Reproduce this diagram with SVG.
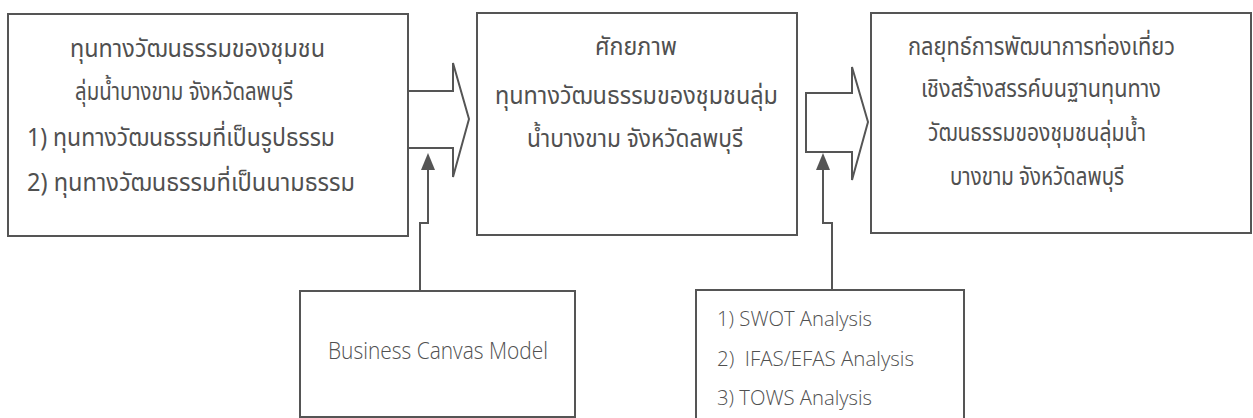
<svg xmlns="http://www.w3.org/2000/svg" width="1253" height="418" viewBox="0 0 1253 418">
<defs>
<style>
.box{fill:#fff;stroke:#555;stroke-width:2}
.ln{fill:none;stroke:#555;stroke-width:2}
.ah{fill:#555}
.th{font-family:"Noto Sans Thai","Noto Sans","DejaVu Sans",sans-serif;font-size:25px;fill:#505050}
.en{font-family:"Open Sans","Liberation Sans",sans-serif;font-weight:300;fill:#505050}
</style>
</defs>
<rect width="1253" height="418" fill="#fff"/>
<g id="n1">
<rect class="box" x="8" y="14" width="400" height="222"/>
<text class="th" x="70" y="57" textLength="255" lengthAdjust="spacingAndGlyphs">ทุนทางวัฒนธรรมของชุมชน</text>
<text class="th" x="75" y="100" textLength="218" lengthAdjust="spacingAndGlyphs">ลุ่มน้ำบางขาม จังหวัดลพบุรี</text>
<text class="th" x="27" y="146" textLength="308" lengthAdjust="spacingAndGlyphs">1) ทุนทางวัฒนธรรมที่เป็นรูปธรรม</text>
<text class="th" x="27" y="191" textLength="328" lengthAdjust="spacingAndGlyphs">2) ทุนทางวัฒนธรรมที่เป็นนามธรรม</text>
</g>
<g id="n2">
<rect class="box" x="477" y="13" width="320" height="222"/>
<text class="th" x="595" y="55" textLength="82" lengthAdjust="spacingAndGlyphs">ศักยภาพ</text>
<text class="th" x="495" y="104" textLength="283" lengthAdjust="spacingAndGlyphs">ทุนทางวัฒนธรรมของชุมชนลุ่ม</text>
<text class="th" x="527" y="147" textLength="216" lengthAdjust="spacingAndGlyphs">น้ำบางขาม จังหวัดลพบุรี</text>
</g>
<g id="n3">
<rect class="box" x="871" y="13" width="380" height="220"/>
<text class="th" x="908" y="55" textLength="267" lengthAdjust="spacingAndGlyphs">กลยุทธ์การพัฒนาการท่องเที่ยว</text>
<text class="th" x="921" y="97" textLength="240" lengthAdjust="spacingAndGlyphs">เชิงสร้างสรรค์บนฐานทุนทาง</text>
<text class="th" x="928" y="141" textLength="218" lengthAdjust="spacingAndGlyphs">วัฒนธรรมของชุมชนลุ่มน้ำ</text>
<text class="th" x="950" y="185" textLength="174" lengthAdjust="spacingAndGlyphs">บางขาม จังหวัดลพบุรี</text>
</g>
<g id="n4">
<rect class="box" x="300" y="291" width="275" height="126"/>
<text class="en" x="328" y="359" font-size="23" textLength="220" lengthAdjust="spacingAndGlyphs">Business Canvas Model</text>
</g>
<g id="n5">
<path class="box" d="M696,425 V290 H964 V425"/>
<text class="en" x="717" y="326" font-size="20" textLength="155" lengthAdjust="spacingAndGlyphs">1) SWOT Analysis</text>
<text class="en" x="717" y="366" font-size="20" xml:space="preserve" textLength="197" lengthAdjust="spacingAndGlyphs">2)  IFAS/EFAS Analysis</text>
<text class="en" x="717" y="405" font-size="20" textLength="155" lengthAdjust="spacingAndGlyphs">3) TOWS Analysis</text>
</g>
<g id="connectors">
<path class="ln" d="M408,91 H453 V63 L469,119 L453,177 V148 H408"/>
<path class="ln" d="M806,93 H852 V67 L868,122 L852,180 V152 H806 Z"/>
<path class="ln" d="M420,291 V223 H428 V168"/>
<polygon class="ah" points="428,153 421,170 435,170"/>
<path class="ln" d="M832,290 V223 H823 V168"/>
<polygon class="ah" points="823,153 816,170 830,170"/>
</g>
</svg>
